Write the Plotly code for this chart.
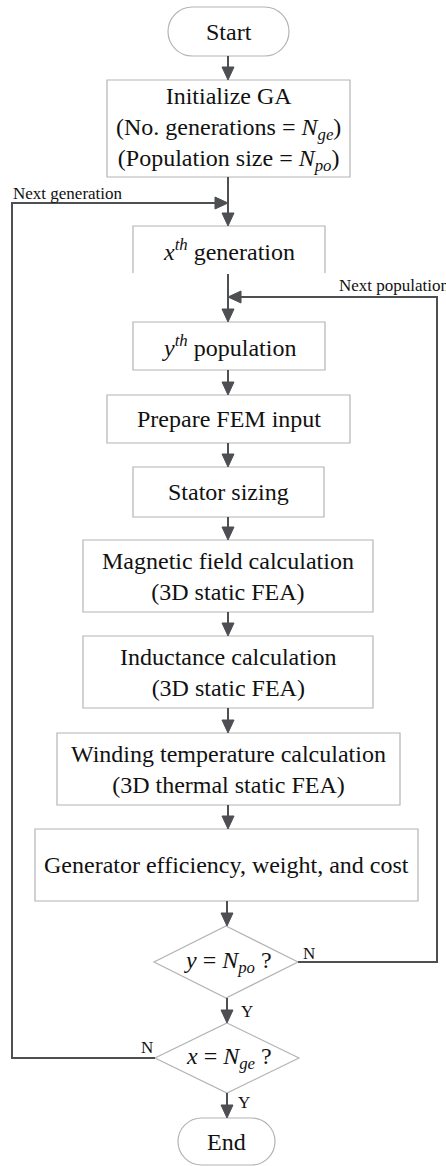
import plotly.graph_objects as go

# ---- content ----
box_labels = [
    "Initialize GA<br>(No. generations = <i>N<sub>ge</sub></i>)<br>(Population size = <i>N<sub>po</sub></i>)",
    "<i>x</i><sup><i>th</i></sup> generation",
    "<i>y</i><sup><i>th</i></sup> population",
    "Prepare FEM input",
    "Stator sizing",
    "Magnetic field calculation<br>(3D static FEA)",
    "Inductance calculation<br>(3D static FEA)",
    "Winding temperature calculation<br>(3D thermal static FEA)",
    "Generator efficiency, weight, and cost",
]
terminal_labels = ["Start", "End"]
decision_labels = ["<i>y</i> = <i>N<sub>po</sub></i> ?", "<i>x</i> = <i>N<sub>ge</sub></i> ?"]
loop_labels = ["Next generation", "Next population"]
branch_labels = ["N", "Y", "N", "Y"]

# ---- geometry (pixels, y downward) ----
box_x0 = [107, 133, 133, 107, 133, 83, 83, 57, 35]
box_x1 = [350, 325, 325, 350, 324, 373, 373, 400, 418]
box_y0 = [80, 226, 322, 395, 467, 540, 636, 733, 829]
box_y1 = [177, 273, 370, 443, 517, 612, 708, 805, 901]
term_x0 = [168, 178]
term_x1 = [289, 275]
term_y0 = [7, 1118]
term_y1 = [56, 1165]
dec_x0 = [154, 155]
dec_x1 = [298, 299]
dec_y0 = [926, 1023]
dec_y1 = [998, 1093]
CX = 228

W, H = 446, 1166
BOX = "#b4b4b4"
ARR = "#4d4f53"
FONT = "Liberation Serif"
FS = 24
HL, HW = 13, 6  # arrowhead length, half width

fig = go.Figure()
shapes = []
ann = []

def rect_path(x0, y0, x1, y1, open_bottom=False):
    if open_bottom:
        return f"M{x0},{y1} L{x0},{y0} L{x1},{y0} L{x1},{y1}"
    return f"M{x0},{y0} L{x1},{y0} L{x1},{y1} L{x0},{y1} Z"

for i in range(len(box_labels)):
    x0, x1, y0, y1 = box_x0[i], box_x1[i], box_y0[i], box_y1[i]
    shapes.append(dict(type="path", path=rect_path(x0, y0, x1, y1, open_bottom=(i == 1)),
                       line=dict(color=BOX, width=1.2), xref="x", yref="y"))
    ann.append(dict(x=(x0 + x1) / 2, y=(y0 + y1) / 2, text=box_labels[i], showarrow=False,
                    font=dict(family=FONT, size=FS, color="#111111"), xref="x", yref="y"))

k = 0.5523
for i in range(2):
    x0, x1, y0, y1 = term_x0[i], term_x1[i], term_y0[i], term_y1[i]
    r = (y1 - y0) / 2
    ym = (y0 + y1) / 2
    a = x0 + r
    b = x1 - r
    p = (f"M{a},{y0} L{b},{y0} "
         f"C{b + k * r},{y0} {x1},{ym - k * r} {x1},{ym} "
         f"C{x1},{ym + k * r} {b + k * r},{y1} {b},{y1} "
         f"L{a},{y1} "
         f"C{a - k * r},{y1} {x0},{ym + k * r} {x0},{ym} "
         f"C{x0},{ym - k * r} {a - k * r},{y0} {a},{y0} Z")
    shapes.append(dict(type="path", path=p, line=dict(color=BOX, width=1.2), xref="x", yref="y"))
    ann.append(dict(x=(x0 + x1) / 2, y=ym, text=terminal_labels[i], showarrow=False,
                    font=dict(family=FONT, size=FS, color="#111111"), xref="x", yref="y"))

for i in range(2):
    x0, x1, y0, y1 = dec_x0[i], dec_x1[i], dec_y0[i], dec_y1[i]
    xm = (x0 + x1) / 2
    ym = (y0 + y1) / 2
    p = f"M{xm},{y0} L{x1},{ym} L{xm},{y1} L{x0},{ym} Z"
    shapes.append(dict(type="path", path=p, line=dict(color=BOX, width=1.2), xref="x", yref="y"))
    ann.append(dict(x=xm + 2, y=ym, text=decision_labels[i], showarrow=False,
                    font=dict(family=FONT, size=FS, color="#111111"), xref="x", yref="y"))

def line(p):
    shapes.append(dict(type="path", path=p, line=dict(color=ARR, width=2), xref="x", yref="y"))

def head_down(x, y):
    shapes.append(dict(type="path", path=f"M{x},{y} L{x - HW},{y - HL} L{x + HW},{y - HL} Z",
                       fillcolor=ARR, line=dict(color=ARR, width=1), xref="x", yref="y"))

def head_h(x, y, direction):
    # direction +1: pointing right, -1: pointing left
    bx = x - direction * HL
    shapes.append(dict(type="path", path=f"M{x},{y} L{bx},{y - HW} L{bx},{y + HW} Z",
                       fillcolor=ARR, line=dict(color=ARR, width=1), xref="x", yref="y"))

def arrow_down(x, y_from, y_to):
    line(f"M{x},{y_from} L{x},{y_to - HL + 1}")
    head_down(x, y_to)

# vertical flow arrows
arrow_down(CX, term_y1[0], box_y0[0])
arrow_down(CX, box_y1[0], box_y0[1])
arrow_down(CX, box_y1[1] + 1, box_y0[2])
for i in range(2, 8):
    arrow_down(CX, box_y1[i], box_y0[i + 1])
arrow_down(CX - 1, box_y1[8], dec_y0[0])
arrow_down(CX - 1, dec_y1[0], dec_y0[1])
arrow_down(CX - 1, dec_y1[1], term_y0[1])

# loops
ym0 = (dec_y0[0] + dec_y1[0]) / 2
ym1 = (dec_y0[1] + dec_y1[1]) / 2
line(f"M{dec_x1[0]},{ym0} L437,{ym0} L437,297 L{CX + HL},297")
head_h(CX, 297, -1)
line(f"M{dec_x0[1]},{ym1} L12,{ym1} L12,203 L{CX - HL},203")
head_h(CX, 203, 1)

small = dict(family=FONT, size=17, color="#111111")
ann.append(dict(x=11, y=193, text=loop_labels[0], showarrow=False, xanchor="left", font=small, xref="x", yref="y"))
ann.append(dict(x=337, y=285, text=loop_labels[1], showarrow=False, xanchor="left", font=small, xref="x", yref="y"))
ann.append(dict(x=301, y=953, text=branch_labels[0], showarrow=False, xanchor="left", font=small, xref="x", yref="y"))
ann.append(dict(x=239, y=1011, text=branch_labels[1], showarrow=False, xanchor="left", font=small, xref="x", yref="y"))
ann.append(dict(x=155, y=1047, text=branch_labels[2], showarrow=False, xanchor="right", font=small, xref="x", yref="y"))
ann.append(dict(x=236, y=1102, text=branch_labels[3], showarrow=False, xanchor="left", font=small, xref="x", yref="y"))

fig.update_layout(
    width=W, height=H, margin=dict(l=0, r=0, t=0, b=0),
    paper_bgcolor="white", plot_bgcolor="white",
    xaxis=dict(range=[0, W], visible=False, fixedrange=True),
    yaxis=dict(range=[H, 0], visible=False, fixedrange=True),
    shapes=shapes, annotations=ann, showlegend=False,
)
fig.write_html("out.html", config={"displayModeBar": False},
               post_script="document.body.style.margin='0';document.body.style.overflow='hidden';")
